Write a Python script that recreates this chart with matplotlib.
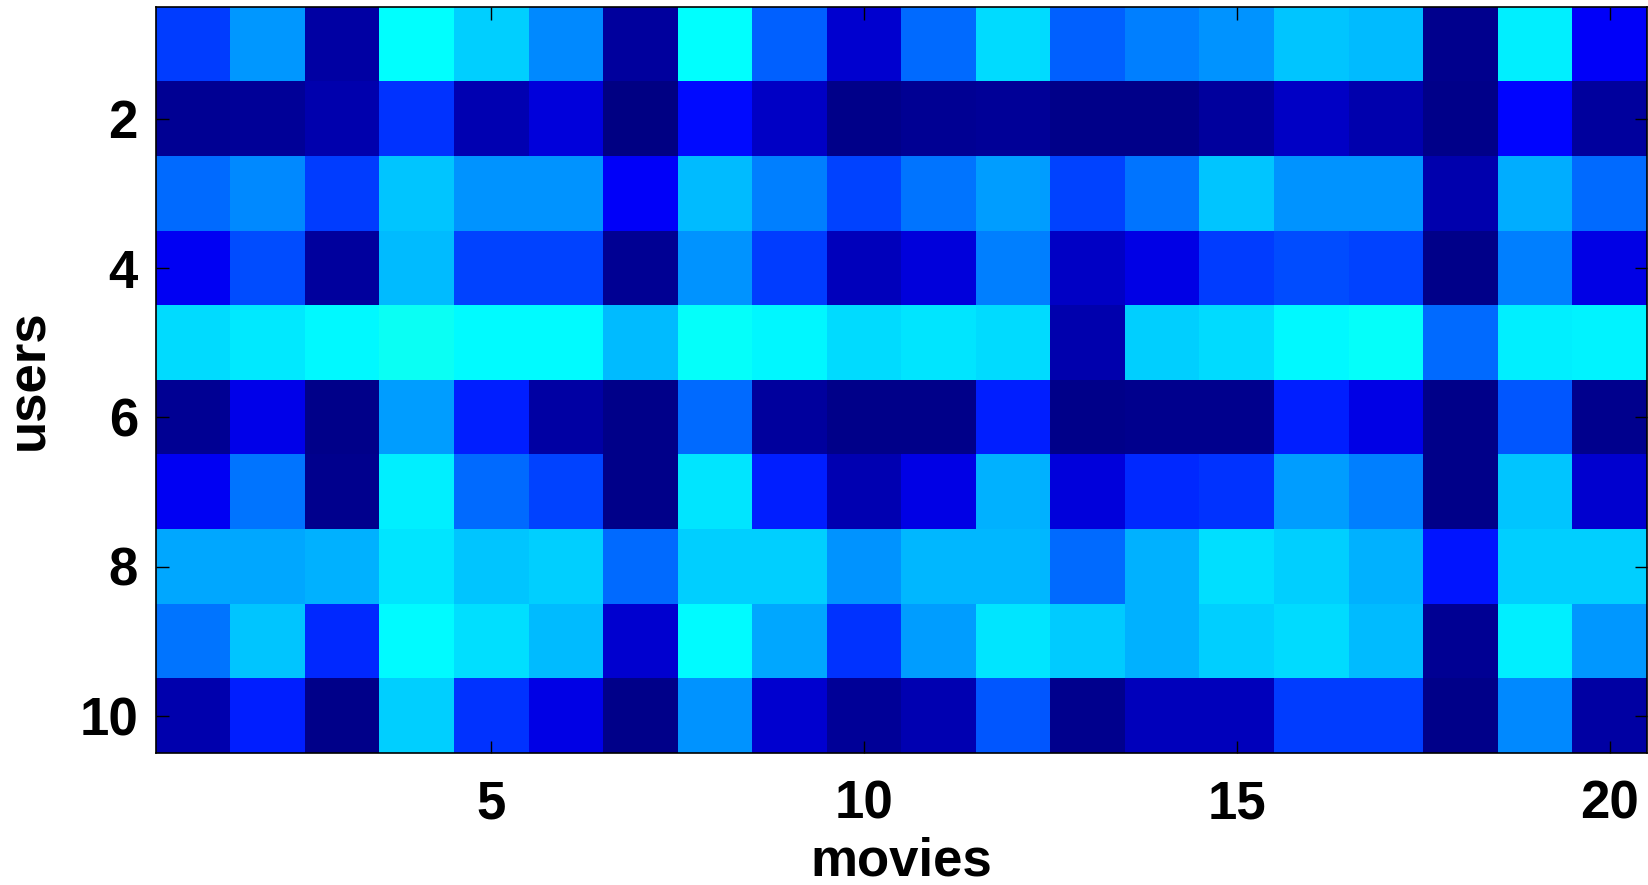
import numpy as np
import matplotlib
matplotlib.use("Agg")
import matplotlib.pyplot as plt
from matplotlib.colors import LinearSegmentedColormap

# Predicted preference of each user (rows) for each movie (columns)
n_users = 10
n_movies = 20
scores = [
    [0.185, 0.275, 0.037, 0.375, 0.330, 0.260, 0.030, 0.375, 0.220, 0.080,
     0.230, 0.340, 0.220, 0.250, 0.270, 0.320, 0.310, 0.015, 0.360, 0.120],
    [0.020, 0.025, 0.045, 0.175, 0.050, 0.090, 0.005, 0.135, 0.070, 0.010,
     0.020, 0.025, 0.010, 0.010, 0.030, 0.070, 0.045, 0.010, 0.130, 0.030],
    [0.230, 0.260, 0.185, 0.320, 0.270, 0.270, 0.120, 0.310, 0.250, 0.190,
     0.240, 0.280, 0.190, 0.240, 0.320, 0.270, 0.270, 0.045, 0.295, 0.230],
    [0.115, 0.200, 0.030, 0.310, 0.190, 0.190, 0.020, 0.270, 0.185, 0.060,
     0.090, 0.250, 0.070, 0.100, 0.185, 0.200, 0.190, 0.010, 0.250, 0.100],
    [0.340, 0.355, 0.370, 0.385, 0.372, 0.372, 0.310, 0.380, 0.368, 0.340,
     0.350, 0.340, 0.045, 0.330, 0.340, 0.370, 0.380, 0.230, 0.360, 0.365],
    [0.020, 0.105, 0.010, 0.280, 0.155, 0.037, 0.010, 0.230, 0.030, 0.010,
     0.010, 0.155, 0.010, 0.015, 0.015, 0.155, 0.100, 0.010, 0.210, 0.015],
    [0.115, 0.240, 0.015, 0.360, 0.230, 0.190, 0.010, 0.350, 0.155, 0.050,
     0.100, 0.300, 0.090, 0.165, 0.175, 0.280, 0.250, 0.010, 0.320, 0.080],
    [0.290, 0.290, 0.300, 0.350, 0.320, 0.330, 0.230, 0.330, 0.330, 0.270,
     0.305, 0.305, 0.230, 0.300, 0.345, 0.330, 0.300, 0.145, 0.330, 0.330],
    [0.240, 0.320, 0.165, 0.372, 0.345, 0.310, 0.080, 0.372, 0.290, 0.175,
     0.280, 0.350, 0.325, 0.300, 0.330, 0.340, 0.310, 0.020, 0.360, 0.275],
    [0.045, 0.155, 0.010, 0.330, 0.175, 0.100, 0.010, 0.270, 0.080, 0.025,
     0.050, 0.210, 0.015, 0.060, 0.060, 0.185, 0.185, 0.010, 0.260, 0.037],
]
x_ticks = [5, 10, 15, 20]
y_ticks = [2, 4, 6, 8, 10]

# Classic jet colour ramp
jet = LinearSegmentedColormap.from_list(
    "jet_classic",
    [(0.0, (0, 0, 0.5)), (0.125, (0, 0, 1)), (0.375, (0, 1, 1)),
     (0.625, (1, 1, 0)), (0.875, (1, 0, 0)), (1.0, (0.5, 0, 0))],
    N=512,
)

plt.rcParams["font.family"] = ["Liberation Sans", "DejaVu Sans"]
plt.rcParams["font.weight"] = "bold"

fig = plt.figure(figsize=(16.49, 8.85), dpi=100)
ax = fig.add_axes([156 / 1649, 1 - 753 / 885, 1491 / 1649, 746 / 885])

data = np.array(scores)
ax.imshow(data, cmap=jet, vmin=0, vmax=1, aspect="auto",
          interpolation="nearest",
          extent=(0.5, n_movies + 0.5, n_users + 0.5, 0.5))

ax.set_xticks(x_ticks)
ax.set_yticks(y_ticks)
ax.set_xticklabels([str(t) for t in x_ticks])
ax.set_yticklabels([str(t) for t in y_ticks])
ax.tick_params(direction="in", length=9, width=1, labelsize=38,
               top=True, right=True)
ax.tick_params(axis="x", pad=19)
ax.tick_params(axis="y", pad=13)
for lbl in ax.get_xticklabels() + ax.get_yticklabels():
    lbl.set_fontweight("bold")

ax.set_xlabel("movies", fontsize=38, fontweight="bold", labelpad=5)
ax.set_ylabel("users", fontsize=38, fontweight="bold", labelpad=18)

for s in ax.spines.values():
    s.set_linewidth(1.2)

fig.savefig("out.png", dpi=100)
